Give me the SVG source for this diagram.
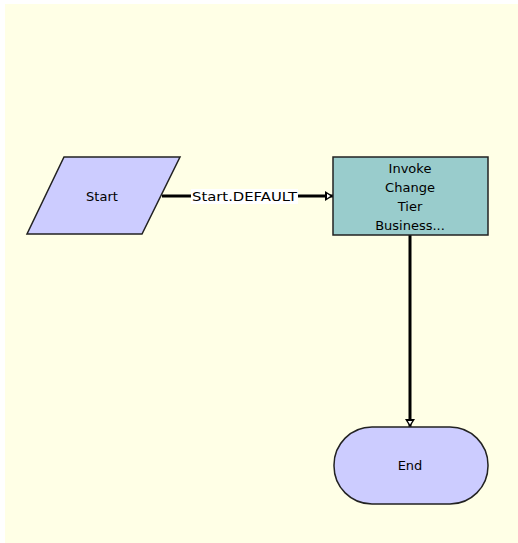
<svg xmlns="http://www.w3.org/2000/svg" width="518" height="543" viewBox="0 0 518 543">
<style>
.t{font-family:"DejaVu Sans",sans-serif;font-size:13px;fill:#000;text-anchor:middle}
.edge{stroke:#000;stroke-width:3;fill:none}
.shape{stroke:#222;stroke-width:1.5}
</style>
<defs>
<marker id="arr" markerWidth="12" markerHeight="12" refX="9" refY="6" orient="auto" markerUnits="userSpaceOnUse">
<path d="M1,1 L9,6 L1,11 Z" fill="#000"/>
<path d="M3,3.8 L6.4,6 L3,8.2 Z" fill="#fff"/>
</marker>
</defs>
<rect x="5" y="4" width="513" height="539" fill="#FFFFE6"/>
<g id="connectors">
<path class="edge" d="M162,196 L333,196" marker-end="url(#arr)"/>
<rect x="191" y="189" width="107" height="15" fill="#fff"/>
<text class="t" x="244.5" y="201" textLength="105" lengthAdjust="spacingAndGlyphs">Start.DEFAULT</text>
<path class="edge" d="M410,235 L410,427" marker-end="url(#arr)"/>
</g>
<g id="start">
<polygon class="shape" points="64,157 180,157 142,234 27,234" fill="#CCCCFF"/>
<text class="t" x="102" y="201">Start</text>
</g>
<g id="invoke">
<rect class="shape" x="333" y="157" width="155" height="78" fill="#99CCCC"/>
<text class="t" x="410" y="172.5">Invoke</text>
<text class="t" x="410" y="191.5">Change</text>
<text class="t" x="410" y="210.5">Tier</text>
<text class="t" x="410" y="229.5">Business...</text>
</g>
<g id="end">
<rect class="shape" x="334" y="427" width="154" height="77" rx="38" ry="38" fill="#CCCCFF"/>
<text class="t" x="410" y="470">End</text>
</g>
</svg>
